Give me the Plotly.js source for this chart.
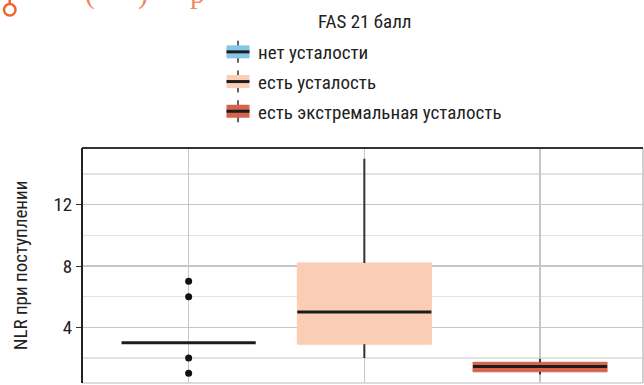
<!DOCTYPE html>
<html><head><meta charset="utf-8">
<script src="https://cdn.plot.ly/plotly-3.0.1.min.js"></script>
<style>html,body{margin:0;padding:0;background:#fff;overflow:hidden}</style>
</head><body><div id="chart" style="width:644px;height:385px"></div>
<script>
// ---- data ----
const groups = ["нет усталости", "есть усталость", "есть экстремальная усталость"];
const q1 = [3, 2.9, 1.1];
const median = [3, 5, 1.45];
const q3 = [3, 8.2, 1.72];
const lowerFence = [3, 2, 0.93];
const upperFence = [3, 15, 1.94];
const outlierGroup = [0, 0, 0, 0];
const outlierValues = [1, 2, 6, 7];
const legendTitle = "FAS 21 балл";
const yTitle = "NLR при поступлении";
const yTickVals = [4, 8, 12];
const yMinorVals = [2, 6, 10, 14];

// ---- styles ----
const fillColors = ["#86C7E7", "#FBCDB5", "#D6634D"];
const FONT = "Roboto Condensed, DejaVu Sans Condensed, sans-serif";
const BOXW = 0.763;
const W = 644, H = 385, ML = 82, MR = 1, MT = 148, MB = 2;
const PW = W - ML - MR, PH = H - MT - MB;
const px = v => (v - ML) / PW;
const py = v => (H - MB - v) / PH;

const traces = [];
groups.forEach((g, i) => {
  traces.push({
    type: "box", name: g, x: [i], q1: [q1[i]], median: [median[i]], q3: [q3[i]],
    lowerfence: [lowerFence[i]], upperfence: [upperFence[i]],
    width: BOXW, whiskerwidth: 0, boxpoints: false,
    fillcolor: fillColors[i], line: {color: fillColors[i], width: 1},
    legendgroup: "g" + i, hoverinfo: "skip"
  });
});
// whiskers
groups.forEach((g, i) => {
  const xs = [], ys = [];
  if (upperFence[i] > q3[i]) { xs.push(i, i, null); ys.push(q3[i], upperFence[i], null); }
  if (lowerFence[i] < q1[i]) { xs.push(i, i, null); ys.push(lowerFence[i], q1[i], null); }
  if (xs.length) traces.push({type: "scatter", mode: "lines", x: xs, y: ys, showlegend: false,
    line: {color: "#333333", width: 2}, hoverinfo: "skip"});
});
// medians
groups.forEach((g, i) => {
  traces.push({type: "scatter", mode: "lines", x: [i - BOXW / 2, i + BOXW / 2], y: [median[i], median[i]],
    showlegend: false, line: {color: "#1c1c1c", width: 3}, hoverinfo: "skip"});
});
// outliers
traces.push({type: "scatter", mode: "markers", x: outlierGroup, y: outlierValues, showlegend: false,
  marker: {color: "#111111", size: 7}, hoverinfo: "skip"});

const layout = {
  width: W, height: H,
  margin: {l: ML, r: MR, t: MT, b: MB, pad: 0},
  paper_bgcolor: "#fff", plot_bgcolor: "#fff",
  font: {family: FONT, size: 19, color: "#222"},
  showlegend: true,
  legend: {
    x: px(218), y: py(33), xanchor: "left", yanchor: "top",
    font: {family: FONT, size: 19, color: "#222"},
    tracegroupgap: 2, bgcolor: "rgba(0,0,0,0)"
  },
  xaxis: {
    type: "linear", range: [-0.607, 2.586], tickvals: [0, 1, 2], showticklabels: false,
    showgrid: true, gridcolor: "#c6c6c6", gridwidth: 1.5, zeroline: false, showline: false, ticks: "",
    fixedrange: true
  },
  yaxis: {
    range: [0.37, 15.70], tickvals: yTickVals, ticks: "outside", ticklen: 5, tickcolor: "#333",
    tickfont: {family: FONT, size: 19, color: "#222"},
    showgrid: true, gridcolor: "#c6c6c6", gridwidth: 1.5, zeroline: false, showline: false,
    minor: {tickvals: yMinorVals, showgrid: true, gridcolor: "#e2e2e2", gridwidth: 1.5, ticks: ""},
    title: {text: yTitle, font: {family: FONT, size: 19, color: "#222"}, standoff: 20},
    fixedrange: true
  },
  shapes: [
    {type: "line", xref: "paper", yref: "paper", x0: 0, x1: 1, y0: 0, y1: 0, line: {color: "#d0d0d0", width: 1.5}},
    {type: "line", xref: "paper", yref: "paper", x0: 1, x1: 1, y0: 0, y1: 1, line: {color: "#c0c0c0", width: 1.5}},
    {type: "line", xref: "paper", yref: "paper", x0: 0, x1: 1, y0: 1, y1: 1, line: {color: "#333", width: 2}},
    {type: "line", xref: "paper", yref: "paper", x0: 0, x1: 0, y0: 0, y1: 1, line: {color: "#222", width: 2}},
    {type: "circle", xref: "paper", yref: "paper", x0: px(4), x1: px(15.5), y0: py(15.5), y1: py(4),
     line: {color: "#F0652E", width: 2.5}},
    {type: "line", xref: "paper", yref: "paper", x0: px(9.7), x1: px(9.7), y0: py(0), y1: py(4),
     line: {color: "#F0652E", width: 2.5}}
  ],
  annotations: [
    {text: legendTitle, xref: "paper", yref: "paper", x: px(365), y: py(21), xanchor: "center", yanchor: "middle",
     showarrow: false, font: {family: FONT, size: 19, color: "#222"}},
    {text: "(", xref: "paper", yref: "paper", x: px(90), y: py(12), xanchor: "center", yanchor: "bottom",
     showarrow: false, font: {family: "Liberation Serif, serif", size: 30, color: "#F08A60"}},
    {text: ")", xref: "paper", yref: "paper", x: px(143), y: py(12), xanchor: "center", yanchor: "bottom",
     showarrow: false, font: {family: "Liberation Serif, serif", size: 30, color: "#F08A60"}},
    {text: "р", xref: "paper", yref: "paper", x: px(197), y: py(11), xanchor: "center", yanchor: "bottom",
     showarrow: false, font: {family: "Liberation Serif, serif", size: 30, color: "#F08A60"}}
  ]
};

Plotly.newPlot("chart", traces, layout, {displayModeBar: false, staticPlot: true}).then(gd => {
  // restyle legend icons to look like small boxplots (box + median + whisker)
  const NS = "http://www.w3.org/2000/svg";
  gd.querySelectorAll(".legend path.legendbox").forEach((p, i) => {
    const tr = p.getAttribute("transform") || "";
    const parent = p.parentNode;
    const wh = document.createElementNS(NS, "path");
    wh.setAttribute("d", "M0,-11V11");
    wh.setAttribute("transform", tr);
    wh.setAttribute("style", "stroke:#333;stroke-width:1.5;fill:none");
    parent.insertBefore(wh, p);
    p.setAttribute("d", "M11.5,6.5H-11.5V-6.5H11.5Z");
    p.style.stroke = "none";
    const md = document.createElementNS(NS, "path");
    md.setAttribute("d", "M-11.5,0H11.5");
    md.setAttribute("transform", tr);
    md.setAttribute("style", "stroke:#1c1c1c;stroke-width:3;fill:none");
    parent.appendChild(md);
  });
});
</script></body></html>
